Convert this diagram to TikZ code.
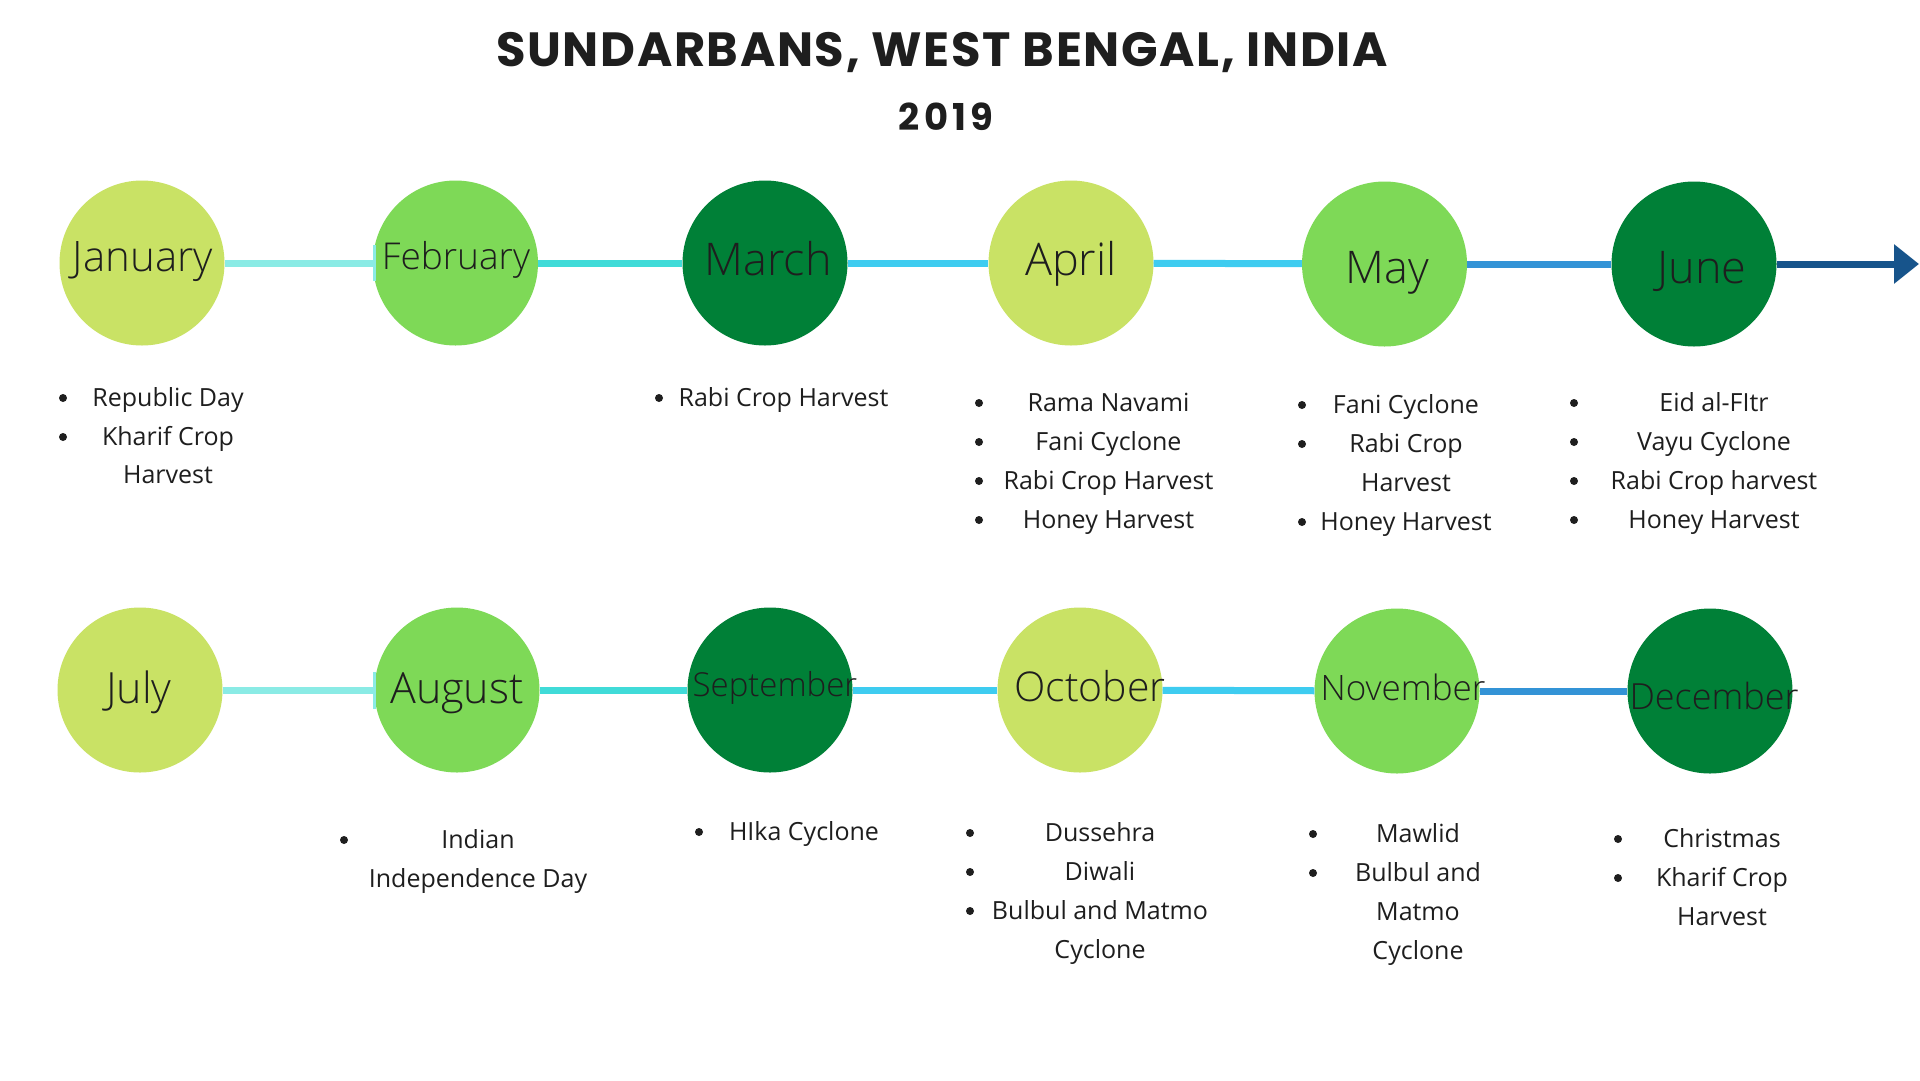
\documentclass[tikz,border=0pt]{standalone}
\usepackage{fontspec}
\usetikzlibrary{arrows.meta}
\setmainfont{Open Sans}
\newfontfamily\titlefont{Poppins}[LetterSpace=3.4]
\newfontfamily\yearfont{Poppins}[LetterSpace=11]
\IfFontExistsTF{Open Sans Light}{\newfontfamily\monthfont{Open Sans Light}}{\newfontfamily\monthfont{Open Sans}}
\definecolor{cLime}{HTML}{C9E265}
\definecolor{cGreen}{HTML}{7ED957}
\definecolor{cDark}{HTML}{008037}
\definecolor{lnA}{HTML}{8AEBE5}
\definecolor{lnB}{HTML}{40DBD8}
\definecolor{lnC}{HTML}{3ECCF0}
\definecolor{lnD}{HTML}{3393D6}
\definecolor{lnE}{HTML}{17548B}
\definecolor{ink}{HTML}{1E1E1E}
\begin{document}
\begin{tikzpicture}[x=1pt,y=-1pt,
  mcirc/.style={circle,minimum size=165pt,inner sep=0pt,draw=none,fill=#1},
  mtext/.style={anchor=base,inner sep=0pt,text=ink,font=\monthfont\fontsize{#1}{#1}\selectfont},
  itm/.style={anchor=base,inner sep=0pt,text=ink,font=\fontsize{25}{30}\selectfont},
  dot/.style={circle,fill=ink,minimum size=8pt,inner sep=0pt},
  link/.style={line width=7pt,draw=#1},
  tick/.style={fill=lnA,draw=none}]
\fill[white] (0,0) rectangle (1920,1080);
\useasboundingbox (0,0) rectangle (1920,1080);

% title
\node[anchor=base,inner sep=0pt,text=ink,font=\titlefont\bfseries\fontsize{48}{48}\selectfont] (title) at (942,66) {SUNDARBANS, WEST BENGAL, INDIA};
\node[anchor=base,inner sep=0pt,text=ink,font=\yearfont\bfseries\fontsize{37}{37}\selectfont] (year) at (946,130) {2019};

% circles row 1
\node[mcirc=cLime]  (jan) at (142,263) {};
\node[mcirc=cGreen] (feb) at (455.5,263) {};
\node[mcirc=cDark]  (mar) at (765,263) {};
\node[mcirc=cLime]  (apr) at (1071,263) {};
\node[mcirc=cGreen] (may) at (1384.5,264) {};
\node[mcirc=cDark]  (jun) at (1694,264) {};
% circles row 2
\node[mcirc=cLime]  (jul) at (140,690) {};
\node[mcirc=cGreen] (aug) at (457,690) {};
\node[mcirc=cDark]  (sep) at (770,690) {};
\node[mcirc=cLime]  (oct) at (1080,690) {};
\node[mcirc=cGreen] (nov) at (1397,691) {};
\node[mcirc=cDark]  (dec) at (1710,691) {};

% connectors row 1
\draw[link=lnA] (jan) -- (feb);
\draw[link=lnB] (feb) -- (mar);
\draw[link=lnC] (mar) -- (apr);
\draw[link=lnC] (apr) -- (may);
\draw[link=lnD] (may) -- (jun);
\coordinate (arrowEnd) at (1919,264);
\draw[link=lnE,-{Triangle[length=25pt,width=38pt]}] (jun) -- (arrowEnd);
% connectors row 2
\draw[link=lnA] (jul) -- (aug);
\draw[link=lnB] (aug) -- (sep);
\draw[link=lnC] (sep) -- (oct);
\draw[link=lnC] (oct) -- (nov);
\draw[link=lnD] (nov) -- (dec);
% small marks at the left of February and August
\fill[tick] (373,245) rectangle (376,281);
\fill[tick] (373,672) rectangle (376,709);

% month labels
\node[mtext=42] (janT) at (143,271) {January};
\node[mtext=37] (febT) at (456,269) {February};
\node[mtext=45] (marT) at (768,275) {March};
\node[mtext=45] (aprT) at (1071,275) {April};
\node[mtext=45] (mayT) at (1387,283) {May};
\node[mtext=45] (junT) at (1702,283) {June};
\node[mtext=43] (julT) at (139,703) {July};
\node[mtext=43] (augT) at (457,703) {August};
\node[mtext=33] (sepT) at (775,696) {September};
\node[mtext=41] (octT) at (1090,701) {October};
\node[mtext=35] (novT) at (1403,700) {November};
\node[mtext=36] (decT) at (1714,709) {December};

% January list
\node[dot] (j1b) at (63,398) {};
\node[itm] (j1) at (168,406) {Republic Day};
\node[dot] (j2b) at (63,437) {};
\node[itm] (j2) at (168,445) {Kharif Crop};
\node[itm] (j3) at (168,483) {Harvest};
% March list
\node[dot] (m1b) at (659,398) {};
\node[itm] (m1) at (783.5,406) {Rabi Crop Harvest};
% April list
\node[dot] (a1b) at (979,403) {};
\node[itm] (a1) at (1108.5,411) {Rama Navami};
\node[dot] (a2b) at (979,442) {};
\node[itm] (a2) at (1108.5,450) {Fani Cyclone};
\node[dot] (a3b) at (979,481) {};
\node[itm] (a3) at (1108.5,489) {Rabi Crop Harvest};
\node[dot] (a4b) at (979,520) {};
\node[itm] (a4) at (1108.5,528) {Honey Harvest};
% May list
\node[dot] (y1b) at (1302,405) {};
\node[itm] (y1) at (1406,413) {Fani Cyclone};
\node[dot] (y2b) at (1302,444) {};
\node[itm] (y2) at (1406,452) {Rabi Crop};
\node[itm] (y3) at (1406,491) {Harvest};
\node[dot] (y4b) at (1302,522) {};
\node[itm] (y4) at (1406,530) {Honey Harvest};
% June list
\node[dot] (u1b) at (1574,403) {};
\node[itm] (u1) at (1714,411) {Eid al-FItr};
\node[dot] (u2b) at (1574,442) {};
\node[itm] (u2) at (1714,450) {Vayu Cyclone};
\node[dot] (u3b) at (1574,481) {};
\node[itm] (u3) at (1714,489) {Rabi Crop harvest};
\node[dot] (u4b) at (1574,520) {};
\node[itm] (u4) at (1714,528) {Honey Harvest};
% August list
\node[dot] (g1b) at (344,840) {};
\node[itm] (g1) at (478,848) {Indian};
\node[itm] (g2) at (478,887) {Independence Day};
% September list
\node[dot] (s1b) at (699,832) {};
\node[itm] (s1) at (804,840) {HIka Cyclone};
% October list
\node[dot] (o1b) at (970,833) {};
\node[itm] (o1) at (1100,841) {Dussehra};
\node[dot] (o2b) at (970,872) {};
\node[itm] (o2) at (1100,880) {Diwali};
\node[dot] (o3b) at (970,911) {};
\node[itm] (o3) at (1100,919) {Bulbul and Matmo};
\node[itm] (o4) at (1100,958) {Cyclone};
% November list
\node[dot] (n1b) at (1313,834) {};
\node[itm] (n1) at (1418,842) {Mawlid};
\node[dot] (n2b) at (1313,873) {};
\node[itm] (n2) at (1418,881) {Bulbul and};
\node[itm] (n3) at (1418,920) {Matmo};
\node[itm] (n4) at (1418,959) {Cyclone};
% December list
\node[dot] (d1b) at (1618,839) {};
\node[itm] (d1) at (1722,847) {Christmas};
\node[dot] (d2b) at (1618,878) {};
\node[itm] (d2) at (1722,886) {Kharif Crop};
\node[itm] (d3) at (1722,925) {Harvest};
\end{tikzpicture}
\end{document}
